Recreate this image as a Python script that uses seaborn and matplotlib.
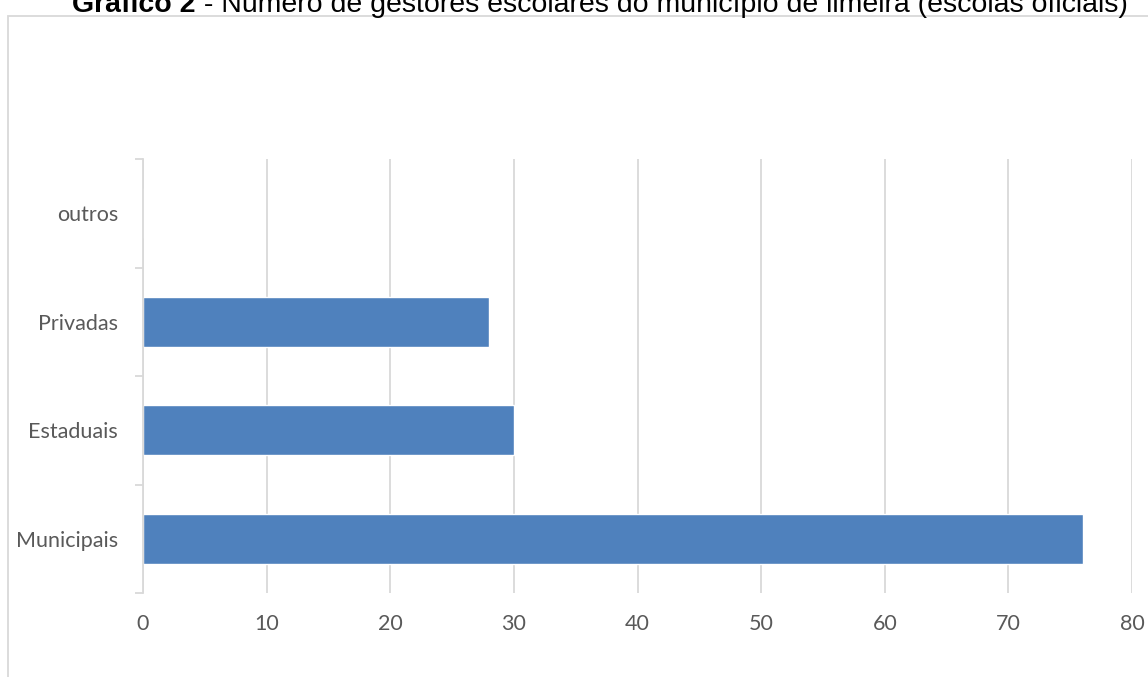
import matplotlib
matplotlib.use("Agg")
import matplotlib.pyplot as plt
import seaborn as sns
import pandas as pd
from matplotlib.patches import Rectangle
from matplotlib.ticker import FixedLocator, NullFormatter

categories = ["outros", "Privadas", "Estaduais", "Municipais"]
values = [0, 28, 30, 76]
x_ticks = [0, 10, 20, 30, 40, 50, 60, 70, 80]

df = pd.DataFrame({"categoria": categories, "valor": values})

sns.set_theme(style="white")
plt.rcParams["font.family"] = ["Lato", "DejaVu Sans"]

fig = plt.figure(figsize=(11.48, 6.77), dpi=100)
ax = fig.add_axes([143/1148, 84/677, 989/1148, 434/677])

sns.barplot(data=df, x="valor", y="categoria", order=categories, orient="h",
            color="#4F81BD", saturation=1, width=0.46, ax=ax)

ax.set_xlim(0, 80)
ax.set_ylim(3.5, -0.5)
ax.set_xticks(x_ticks)
ax.xaxis.grid(True, color="#D9D9D9", linewidth=1.3)
ax.set_axisbelow(True)
ax.set_xlabel("")
ax.set_ylabel("")

for s in ["top", "right", "bottom"]:
    ax.spines[s].set_visible(False)
ax.spines["left"].set_color("#D9D9D9")
ax.spines["left"].set_linewidth(1.3)

ax.yaxis.set_minor_locator(FixedLocator([-0.5, 0.5, 1.5, 2.5, 3.5]))
ax.yaxis.set_minor_formatter(NullFormatter())
ax.tick_params(axis="y", which="minor", length=6, width=1.3, color="#D9D9D9", left=True)
ax.tick_params(axis="y", which="major", length=0, pad=18, labelsize=15.5, labelcolor="#595959")
ax.tick_params(axis="x", which="major", length=0, pad=15, labelsize=15.5, labelcolor="#595959")

# outer chart border (partially cropped)
fig.patches.append(Rectangle((8/1148, -0.1), 1.2, 1.1 - 16/677, transform=fig.transFigure,
                             fill=False, edgecolor="#D9D9D9", linewidth=1.3))

title_font = ["Liberation Sans", "DejaVu Sans"]
base_y = 1 - 12/677
t1 = fig.text(72/1148, base_y, "Gráfico 2", fontweight="bold", fontsize=20.5,
              family=title_font, va="baseline", ha="left", color="black")
fig.canvas.draw()
bb = t1.get_window_extent()
x2 = bb.x1 / fig.bbox.width
fig.text(x2, base_y, " - Número de gestores escolares do município de limeira (escolas oficiais)",
         fontsize=20.5, family=title_font, va="baseline", ha="left", color="black")

fig.savefig("out.png", dpi=100)
